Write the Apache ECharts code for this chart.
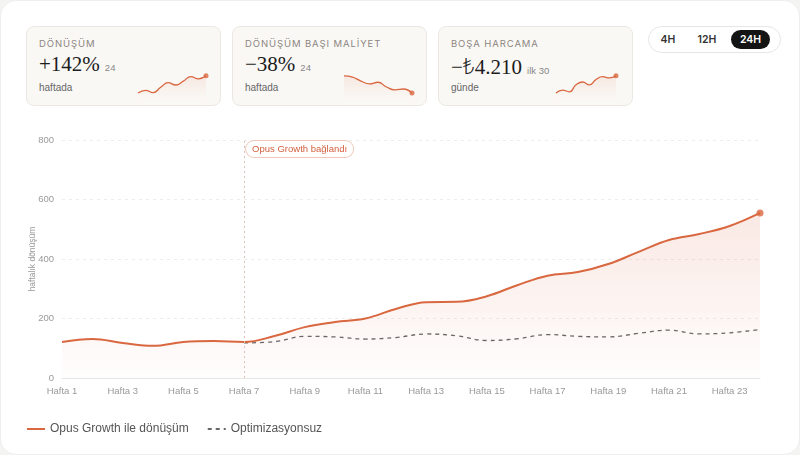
<!DOCTYPE html>
<html>
<head>
<meta charset="utf-8">
<script src="https://cdn.jsdelivr.net/npm/echarts@6/dist/echarts.min.js"></script>
<style>
  html, body { margin: 0; padding: 0; background: #f4f4f2; }
  body { width: 800px; height: 455px; overflow: hidden; font-family: "Liberation Sans", Arial, sans-serif; }
  .page { position: absolute; left: 0; top: 0; width: 798px; height: 453px; background: #fff; border: 1px solid #eeeeec; border-radius: 16px; }
  #main { position: absolute; left: 0; top: 0; width: 800px; height: 455px; }
  .card { position: absolute; top: 26px; width: 193px; height: 78px; background: #faf8f5; border: 1px solid #ebe7e1; border-radius: 8px; z-index: 2; }
  .card .lbl { position: absolute; left: 12px; top: 11px; font-family: Inter, sans-serif; font-size: 9.5px; letter-spacing: 0.9px; color: #8c8681; }
  .card .big { position: absolute; left: 12px; top: 25px; font-family: "Liberation Serif", "DejaVu Serif", serif; font-size: 21px; color: #1c1c1c; white-space: nowrap; }
  .card .big .lira { font-family: "Noto Sans", "DejaVu Sans", sans-serif; font-weight: 300; font-size: 21px; }
  .card .big small { font-family: "Liberation Sans", sans-serif; font-size: 9.5px; color: #888; margin-left: 5px; }
  .card .sub { position: absolute; left: 12px; top: 55px; font-size: 10px; color: #666; }
  .card .spark { position: absolute; right: 10px; top: 44px; width: 74px; height: 28px; }
  .toggle { position: absolute; left: 648px; top: 26px; width: 131px; height: 25px; border: 1px solid #e6e6e4; border-radius: 14px; background: #fff; z-index: 2; }
  .toggle span { position: absolute; top: 3px; height: 19px; line-height: 19px; font-family: Inter, sans-serif; font-size: 10.5px; font-weight: 600; color: #333; text-align: center; }
  .toggle .on { background: #141414; color: #fff; border-radius: 10px; }
</style>
</head>
<body>
<div class="page"></div>
<div id="main"></div>

<div class="card" style="left:26px">
  <div class="lbl">DÖNÜŞÜM</div>
  <div class="big">+142%<small>24</small></div>
  <div class="sub">haftada</div>
  <div class="spark" id="spark1"></div>
</div>
<div class="card" style="left:232px">
  <div class="lbl">DÖNÜŞÜM BAŞI MALİYET</div>
  <div class="big">−38%<small>24</small></div>
  <div class="sub">haftada</div>
  <div class="spark" id="spark2"></div>
</div>
<div class="card" style="left:438px">
  <div class="lbl">BOŞA HARCAMA</div>
  <div class="big">−<span class="lira">₺</span>4.210<small>ilk 30</small></div>
  <div class="sub">günde</div>
  <div class="spark" id="spark3" style="right:12px;width:66px"></div>
</div>
<div class="toggle">
  <span style="left:6px;width:26px">4H</span>
  <span style="left:43px;width:30px">12H</span>
  <span class="on" style="left:82px;width:39px">24H</span>
</div>

<script>
var weeks = ['Hafta 1','Hafta 2','Hafta 3','Hafta 4','Hafta 5','Hafta 6','Hafta 7','Hafta 8',
  'Hafta 9','Hafta 10','Hafta 11','Hafta 12','Hafta 13','Hafta 14','Hafta 15','Hafta 16',
  'Hafta 17','Hafta 18','Hafta 19','Hafta 20','Hafta 21','Hafta 22','Hafta 23','Hafta 24'];
var withOpus = [121, 131, 118, 108, 121, 124, 121, 141, 171, 188, 200, 232, 255, 256, 275, 312,
  344, 356, 383, 424, 464, 484, 511, 555];
var withoutOpus = [null, null, null, null, null, null, 118, 122, 140, 138, 131, 136, 148, 142,
  126, 132, 146, 140, 138, 150, 161, 148, 152, 163];
var launchWeek = 'Hafta 7';
var yTicks = [0, 200, 400, 600, 800];

var spark1 = [25, 32, 26, 40, 52, 46, 56, 68, 62, 70];
var spark2 = [70, 67, 57, 50, 54, 42, 35, 37, 27];
var spark3 = [25, 32, 28, 45, 52, 45, 58, 65, 62, 67];

var orange = '#d9673f';
var font = '"Liberation Sans", Arial, sans-serif';

var chart = echarts.init(document.getElementById('main'));
chart.setOption({
  animation: false,
  textStyle: { fontFamily: font },
  grid: { left: 62, right: 40, top: 140, bottom: 77 },
  legend: {
    left: 21, top: 418,
    itemWidth: 18, itemHeight: 10, itemGap: 18,
    itemStyle: { opacity: 0 },
    textStyle: { fontSize: 12, color: '#555', fontFamily: font },
    data: ['Opus Growth ile dönüşüm', 'Optimizasyonsuz']
  },
  xAxis: {
    type: 'category',
    boundaryGap: false,
    data: weeks,
    axisLine: { lineStyle: { color: '#e6e6e6' } },
    axisTick: { show: false },
    axisLabel: { interval: 1, color: '#9a9a9a', fontSize: 9.5, margin: 8 }
  },
  yAxis: {
    type: 'value',
    min: yTicks[0], max: yTicks[yTicks.length - 1], interval: 200,
    name: 'haftalık dönüşüm',
    nameLocation: 'middle', nameGap: 25, nameRotate: 90,
    nameMoveOverlap: false,
    nameTextStyle: { fontSize: 8.5, color: '#999' },
    axisLine: { show: false },
    axisTick: { show: false },
    axisLabel: { color: '#9a9a9a', fontSize: 9.5, margin: 8 },
    splitLine: { lineStyle: { color: '#ededed', type: [3, 4] } }
  },
  series: [
    {
      name: 'Opus Growth ile dönüşüm',
      type: 'line',
      data: withOpus,
      smooth: 0.4,
      symbol: 'none',
      lineStyle: { color: orange, width: 2 },
      itemStyle: { color: orange },
      areaStyle: {
        color: new echarts.graphic.LinearGradient(0, 0, 0, 1, [
          { offset: 0, color: 'rgba(221,110,75,0.22)' },
          { offset: 1, color: 'rgba(221,110,75,0.02)' }
        ])
      },
      markLine: {
        silent: true,
        symbol: 'none',
        label: { show: false },
        lineStyle: { color: '#d9c2b8', type: [2, 3], width: 1 },
        data: [{ xAxis: launchWeek }]
      },
      markPoint: {
        silent: true,
        symbol: 'circle', symbolSize: 0,
        label: {
          show: true,
          position: 'right',
          distance: 2,
          offset: [0, 9],
          formatter: 'Opus Growth bağlandı',
          color: '#d2603f',
          fontSize: 9.5,
          fontFamily: font,
          backgroundColor: '#fff',
          borderColor: '#f0c8b9',
          borderWidth: 1,
          borderRadius: 9,
          padding: [3, 6]
        },
        data: [{ coord: [launchWeek, yTicks[yTicks.length - 1]] }]
      },
      z: 3
    },
    {
      name: 'Optimizasyonsuz',
      type: 'line',
      data: withoutOpus,
      smooth: 0.4,
      symbol: 'none',
      lineStyle: { color: '#666', width: 1.3, type: [4, 4] },
      itemStyle: { color: '#666' },
      z: 2
    },
    {
      name: 'son',
      type: 'scatter',
      data: withOpus.map(function (v, i) { return i === withOpus.length - 1 ? v : null; }),
      symbolSize: 7,
      itemStyle: { color: orange },
      z: 4
    }
  ]
});

function drawSpark(id, values) {
  var c = echarts.init(document.getElementById(id));
  c.setOption({
    animation: false,
    grid: { left: 2, right: 4, top: 4, bottom: 0 },
    xAxis: { type: 'category', show: false, boundaryGap: false, data: values.map(function (v, i) { return i; }) },
    yAxis: {
      type: 'value', show: false,
      min: function (v) { return v.min - (v.max - v.min) * 0.35; },
      max: function (v) { return v.max + (v.max - v.min) * 0.05; }
    },
    series: [
      {
        type: 'line', data: values, smooth: 0.5, symbol: 'none',
        lineStyle: { color: orange, width: 1.3 },
        areaStyle: {
          color: new echarts.graphic.LinearGradient(0, 0, 0, 1, [
            { offset: 0, color: 'rgba(221,110,75,0.16)' },
            { offset: 1, color: 'rgba(221,110,75,0)' }
          ])
        }
      },
      {
        type: 'scatter', symbolSize: 5, itemStyle: { color: orange },
        data: values.map(function (v, i) { return i === values.length - 1 ? v : null; })
      }
    ]
  });
}
drawSpark('spark1', spark1);
drawSpark('spark2', spark2);
drawSpark('spark3', spark3);
</script>
</body>
</html>
